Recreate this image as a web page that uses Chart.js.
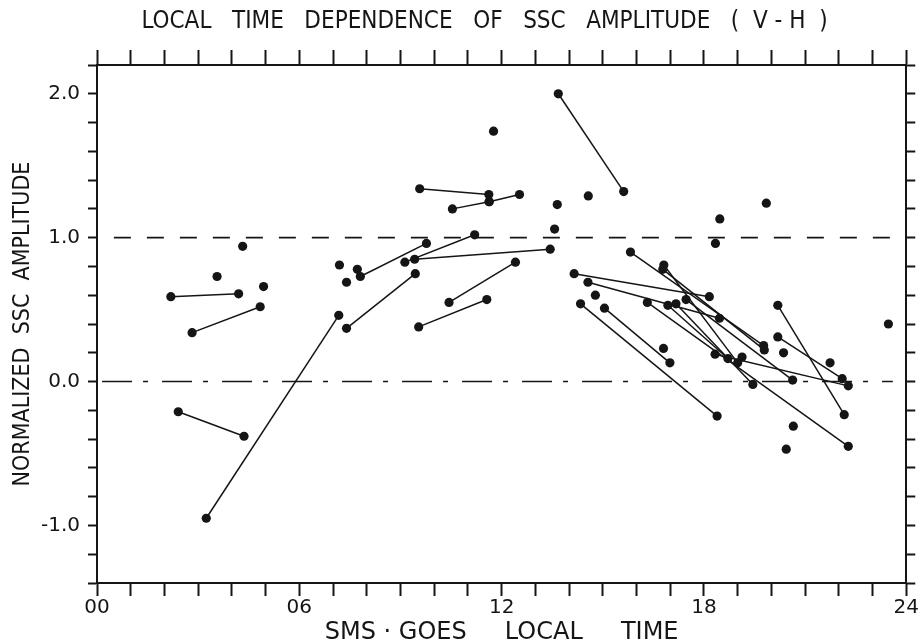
<!DOCTYPE html>
<html>
<head>
<meta charset="utf-8">
<script src="https://cdn.jsdelivr.net/npm/chart.js@4/dist/chart.umd.min.js"></script>
<style>
  html, body { margin: 0; padding: 0; background: #fff; }
</style>
</head>
<body>
<canvas id="sscChart" width="921" height="643"></canvas>
<script>
// SSC events seen by both satellites: [hour1, amp1, hour2, amp2]
const linkedPairs = [
  [2.19, 0.59, 4.20, 0.61],
  [2.82, 0.34, 4.84, 0.52],
  [2.41, -0.21, 4.36, -0.38],
  [3.24, -0.95, 7.17, 0.46],
  [7.40, 0.37, 9.44, 0.75],
  [7.81, 0.73, 9.77, 0.96],
  [9.13, 0.83, 11.20, 1.02],
  [9.42, 0.85, 13.44, 0.92],
  [10.44, 0.55, 12.41, 0.83],
  [9.54, 0.38, 11.56, 0.57],
  [9.57, 1.34, 11.62, 1.30],
  [10.54, 1.20, 11.63, 1.25],
  [11.63, 1.25, 12.53, 1.30],
  [13.68, 2.00, 15.62, 1.32],
  [14.34, 0.54, 18.39, -0.24],
  [15.05, 0.51, 16.99, 0.13],
  [14.15, 0.75, 18.16, 0.59],
  [14.56, 0.69, 18.46, 0.44],
  [15.82, 0.90, 19.77, 0.25],
  [16.78, 0.78, 19.79, 0.22],
  [16.81, 0.81, 19.00, 0.13],
  [16.93, 0.53, 18.71, 0.16],
  [17.17, 0.54, 19.45, -0.02],
  [17.47, 0.57, 20.63, 0.01],
  [16.32, 0.55, 22.28, -0.45],
  [18.33, 0.19, 22.28, -0.03],
  [20.19, 0.31, 22.10, 0.02],
  [20.19, 0.53, 22.16, -0.23]
];

// events seen by one satellite only
const loneHours = [4.32, 3.56, 4.94, 7.19, 7.40, 7.72, 11.76, 13.65, 13.57, 14.57,
                   14.78, 16.80, 19.13, 18.47, 18.34, 19.85, 20.36, 21.74, 20.65, 20.44, 23.47];
const loneAmps  = [0.94, 0.73, 0.66, 0.81, 0.69, 0.78, 1.74, 1.23, 1.06, 1.29,
                   0.60, 0.23, 0.17, 1.13, 0.96, 1.24, 0.20, 0.13, -0.31, -0.47, 0.40];

// reference levels: [amplitude, from hour, to hour]
const unitLevel = [1.0, 0.5, 24];
const zeroLevel = [0.0, 0.15, 23.6];

const ink = '#151515';
const narrowFont = "'DejaVu Sans Condensed', 'Liberation Sans Narrow', 'DejaVu Sans', sans-serif";
const wideFont = "'DejaVu Sans', 'Liberation Sans', sans-serif";

const datasets = [
  {
    data: [{ x: unitLevel[1], y: unitLevel[0] }, { x: unitLevel[2], y: unitLevel[0] }],
    showLine: true, pointRadius: 0, borderColor: ink, borderWidth: 1.6,
    borderDash: [17, 16]
  },
  {
    data: [{ x: zeroLevel[1], y: zeroLevel[0] }, { x: zeroLevel[2], y: zeroLevel[0] }],
    showLine: true, pointRadius: 0, borderColor: ink, borderWidth: 1.6,
    borderDash: [30, 11, 5, 14]
  }
];

linkedPairs.forEach(p => {
  datasets.push({
    data: [{ x: p[0], y: p[1] }, { x: p[2], y: p[3] }],
    showLine: true, borderColor: ink, borderWidth: 1.5,
    pointRadius: 4.6, pointBackgroundColor: ink, pointBorderWidth: 0
  });
});

datasets.push({
  data: loneHours.map((h, i) => ({ x: h, y: loneAmps[i] })),
  showLine: false, pointRadius: 4.6, pointBackgroundColor: ink, pointBorderWidth: 0
});

const frameGrid = (len) => ({ drawOnChartArea: false, tickLength: len, tickWidth: 2, color: ink });
const frameBorder = { color: ink, width: 2 };

new Chart(document.getElementById('sscChart'), {
  type: 'scatter',
  data: { datasets },
  options: {
    responsive: false,
    animation: false,
    layout: { padding: 0 },
    plugins: { legend: { display: false }, tooltip: { enabled: false } },
    scales: {
      x: {
        type: 'linear', position: 'bottom', min: 0, max: 24,
        ticks: {
          stepSize: 1, autoSkip: false, maxRotation: 0, padding: 2, color: ink,
          font: { family: wideFont, size: 20, lineHeight: 1 },
          callback: v => (v % 6 === 0 ? String(v).padStart(2, '0') : '')
        },
        grid: frameGrid(13),
        border: frameBorder,
        title: {
          display: true, text: 'SMS · GOES     LOCAL     TIME', color: ink,
          font: { family: wideFont, size: 24, lineHeight: 1 }, padding: { top: 0, bottom: -2 }
        },
        afterFit: s => { s.height = 60; }
      },
      xTop: {
        type: 'linear', position: 'top', min: 0, max: 24,
        ticks: { stepSize: 1, autoSkip: false, display: false },
        grid: frameGrid(15),
        border: frameBorder,
        title: {
          display: true, text: 'LOCAL   TIME   DEPENDENCE   OF   SSC   AMPLITUDE   (  V - H  )     ', color: ink,
          font: { family: narrowFont, size: 24, lineHeight: 1 }, padding: { top: 10, bottom: 0 }
        },
        afterFit: s => { s.height = 65; }
      },
      y: {
        type: 'linear', position: 'left', min: -1.4, max: 2.2,
        ticks: {
          stepSize: 0.2, autoSkip: false, padding: 8, color: ink,
          font: { family: wideFont, size: 20 },
          callback: v => (Math.abs(v - Math.round(v)) < 1e-6 ? Math.round(v).toFixed(1) : '')
        },
        grid: frameGrid(9),
        border: frameBorder,
        title: {
          display: true, text: 'NORMALIZED  SSC  AMPLITUDE', color: ink,
          font: { family: narrowFont, size: 23, lineHeight: 1 }, padding: { top: 12, bottom: 0 }
        },
        afterFit: s => { s.width = 97; }
      },
      yRight: {
        type: 'linear', position: 'right', min: -1.4, max: 2.2,
        ticks: { stepSize: 0.2, autoSkip: false, display: false },
        grid: frameGrid(9),
        border: frameBorder,
        afterFit: s => { s.width = 14; }
      }
    }
  }
});
</script>
</body>
</html>
